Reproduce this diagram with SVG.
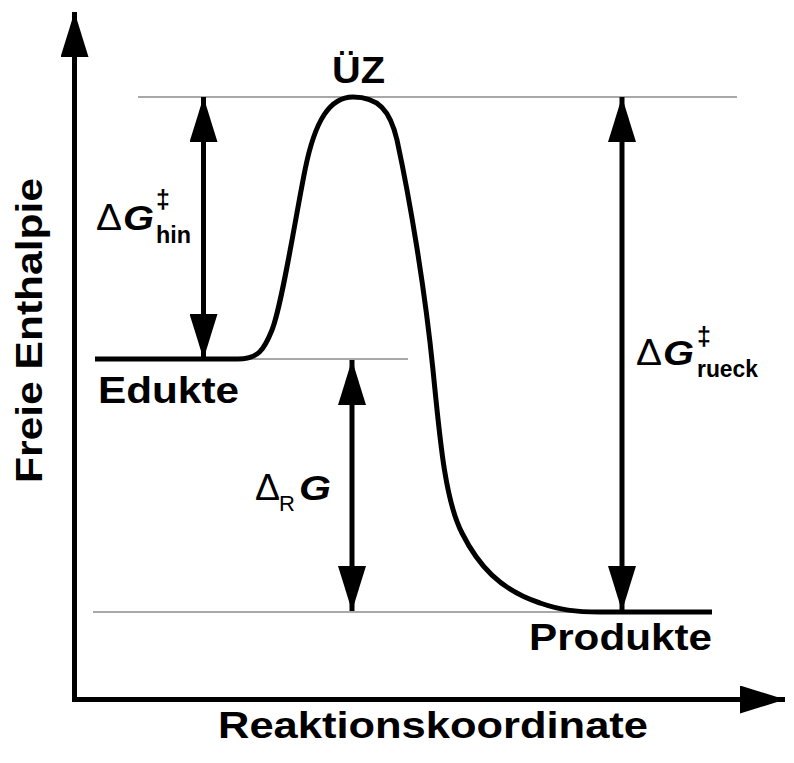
<svg xmlns="http://www.w3.org/2000/svg" width="794" height="763" viewBox="0 0 794 763">
<style>
.lbl{font-family:"Liberation Sans",Arial,sans-serif;font-weight:bold;fill:#000}
.sym{font-family:"Liberation Sans",Arial,sans-serif;font-weight:normal;fill:#000}
.gi{font-family:"Liberation Sans",Arial,sans-serif;font-weight:bold;font-style:italic;fill:#000}
.guide{stroke:#a8a8a8;stroke-width:2;fill:none}
.ax{stroke:#000;stroke-width:5;fill:none}
.dbl{stroke:#000;stroke-width:5;fill:none;marker-start:url(#head);marker-end:url(#head)}
</style>
<defs>
<marker id="head" viewBox="0 -14 45 28" refX="45" refY="0" markerWidth="45" markerHeight="28" markerUnits="userSpaceOnUse" orient="auto-start-reverse">
<path d="M0,-14 L45,0 L0,14 z" fill="#000"/>
</marker>
</defs>
<rect width="794" height="763" fill="#fff"/>
<g id="guides">
<line class="guide" x1="138" y1="97" x2="737" y2="97"/>
<line class="guide" x1="95" y1="359" x2="408" y2="359"/>
<line class="guide" x1="93" y1="612" x2="712" y2="612"/>
</g>
<g id="axes">
<path class="ax" d="M74.5,702 V12" marker-end="url(#head)"/>
<path class="ax" d="M72,699.5 H785" marker-end="url(#head)"/>
</g>
<g id="curve">
<path d="M95,359 H238 C258,359 264,350 272,330 C282,305 295,220 305,170 C315,120 330,97 353,97 C378,97 390,110 397,140 C410,200 425,290 433,370 C440,440 445,500 462,533 C478,565 500,590 540,603 C560,610 575,612 600,612 H712" fill="none" stroke="#000" stroke-width="5" stroke-linejoin="round"/>
</g>
<g id="connectors">
<path class="dbl" d="M203.5,97 V359"/>
<path class="dbl" d="M352,360 V611"/>
<path class="dbl" d="M622,97 V611"/>
</g>
<g id="label-uz"><text class="lbl" x="332" y="83" font-size="36" textLength="53" lengthAdjust="spacingAndGlyphs">ÜZ</text></g>
<g id="label-edukte"><text class="lbl" x="98" y="403" font-size="36" textLength="141" lengthAdjust="spacingAndGlyphs">Edukte</text></g>
<g id="label-produkte"><text class="lbl" x="529" y="650" font-size="36" textLength="183" lengthAdjust="spacingAndGlyphs">Produkte</text></g>
<g id="label-x"><text class="lbl" x="218" y="738" font-size="36" textLength="430" lengthAdjust="spacingAndGlyphs">Reaktionskoordinate</text></g>
<g id="label-y"><text class="lbl" transform="translate(42,483) rotate(-90)" x="0" y="0" font-size="36" textLength="305" lengthAdjust="spacingAndGlyphs">Freie Enthalpie</text></g>
<g id="label-hin">
<text class="sym" x="96" y="230" font-size="37" textLength="26" lengthAdjust="spacingAndGlyphs">Δ</text>
<text class="gi" x="123" y="230" font-size="35" textLength="31" lengthAdjust="spacingAndGlyphs">G</text>
<text class="lbl" x="156" y="208" font-size="25">‡</text>
<text class="lbl" x="156" y="243" font-size="24" textLength="35" lengthAdjust="spacingAndGlyphs">hin</text>
</g>
<g id="label-rueck">
<text class="sym" x="636" y="365" font-size="37" textLength="26" lengthAdjust="spacingAndGlyphs">Δ</text>
<text class="gi" x="663" y="365" font-size="35" textLength="31" lengthAdjust="spacingAndGlyphs">G</text>
<text class="lbl" x="697" y="345" font-size="25">‡</text>
<text class="lbl" x="697" y="377" font-size="24" textLength="61" lengthAdjust="spacingAndGlyphs">rueck</text>
</g>
<g id="label-rg">
<text class="sym" x="255" y="500" font-size="37" textLength="25" lengthAdjust="spacingAndGlyphs">Δ</text>
<text class="sym" x="279" y="511" font-size="22">R</text>
<text class="gi" x="299" y="500" font-size="35" textLength="32" lengthAdjust="spacingAndGlyphs">G</text>
</g>
</svg>
